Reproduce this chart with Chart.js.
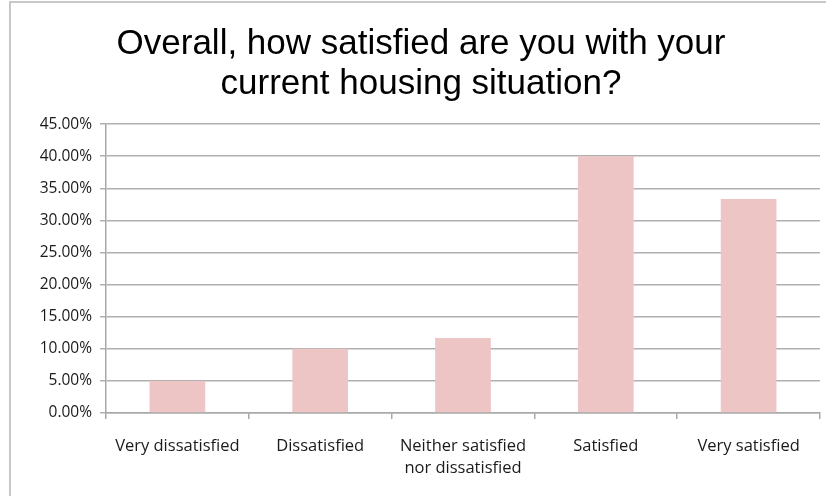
<!DOCTYPE html>
<html>
<head>
<meta charset="utf-8">
<script src="https://cdn.jsdelivr.net/npm/chart.js@4.4.1/dist/chart.umd.min.js"></script>
<style>
  body { margin: 0; background: #fff; }
  #wrap { position: relative; width: 826px; height: 496px; overflow: hidden; }
  #frame { position: absolute; left: 9px; top: 1px; width: 900px; height: 600px; border: 2px solid #c8c8c8; box-sizing: border-box; }
  canvas { position: absolute; left: 0; top: 0; }
</style>
</head>
<body>
<div id="wrap">
  <div id="frame"></div>
  <canvas id="myChart" width="826" height="496"></canvas>
</div>
<script>
var categories = ['Very dissatisfied', 'Dissatisfied', ['Neither satisfied', 'nor dissatisfied'], 'Satisfied', 'Very satisfied'];
var values = [5.00, 10.00, 11.67, 40.00, 33.33];
var yMax = 45;
var yStep = 5;

const ctx = document.getElementById('myChart');
const myChart = new Chart(ctx, {
  type: 'bar',
  data: {
    labels: categories,
    datasets: [{
      data: values,
      backgroundColor: '#eec5c5',
      barPercentage: 0.39,
      categoryPercentage: 1
    }]
  },
  options: {
    responsive: false,
    animation: false,
    layout: { padding: { left: 22, right: 6, top: 0, bottom: 0 } },
    scales: {
      x: {
        grid: { display: true, drawOnChartArea: false, offset: true, color: '#a8a8a8', lineWidth: 1.5, tickLength: 6 },
        border: { color: '#a8a8a8', width: 1.5 },
        ticks: { color: '#1a1a1a', font: { family: 'Open Sans', size: 16.5, lineHeight: 1.3 }, padding: 17, maxRotation: 0, autoSkip: false },
        afterFit: function (axis) { axis.height = 83; }
      },
      y: {
        min: 0,
        max: yMax,
        ticks: {
          stepSize: yStep,
          color: '#1a1a1a',
          font: { family: 'Open Sans', size: 15.5 },
          padding: 8,
          callback: function (v) { return v.toFixed(2) + '%'; }
        },
        grid: { color: '#b0b0b0', lineWidth: 1.5, tickLength: 6 },
        border: { color: '#a8a8a8', width: 1.5 },
        afterFit: function (axis) { axis.width = 84; }
      }
    },
    plugins: {
      legend: { display: false },
      tooltip: { enabled: false },
      title: {
        display: true,
        text: ['Overall, how satisfied are you with your', 'current housing situation?'],
        color: '#000',
        font: { family: 'Liberation Sans', size: 35, weight: 'normal', lineHeight: 1.13 },
        padding: { top: 25, bottom: 20 }
      }
    }
  }
});
</script>
</body>
</html>
